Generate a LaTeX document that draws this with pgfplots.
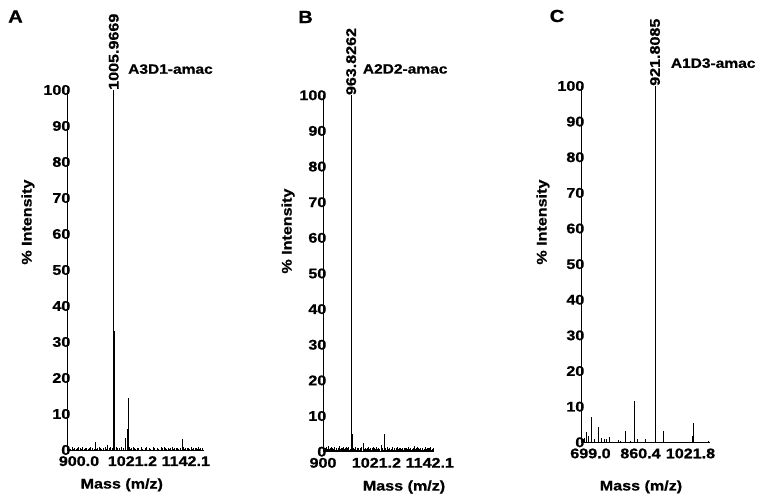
\documentclass[border=0pt]{standalone}
\usepackage{pgfplots}
\pgfplotsset{compat=1.18}
\usepackage{fontspec}
\setmainfont{Liberation Sans}[FakeStretch=1.15, BoldFeatures={FakeBold=0.8}]

\pgfplotsset{
  ms/.style={
    scale only axis,
    anchor=south west,
    axis x line=bottom, axis y line=left,
    axis line style={-, line width=0.7pt, black},
    ymin=0, ymax=100, ytick={0,10,...,100},
    major tick length=0pt,
    clip=false,
    /pgf/number format/assume math mode=true,
    tick label style={font=\fontsize{14}{14}\selectfont\bfseries},
    yticklabel style={anchor=east, inner sep=0pt, xshift=3.5pt},
    xticklabel style={anchor=north, inner sep=0pt, yshift=-6pt},
    label style={font=\fontsize{14}{14}\selectfont\bfseries},
    xlabel={Mass (m/z)}, ylabel={\% Intensity},
  },
  peak/.style={ycomb, black, line width=0.6pt, mark=none},
  noise/.style={ycomb, black, line width=0.8pt, mark=none},
}
\tikzset{
  pk/.style={rotate=90, anchor=west, inner sep=0pt, font=\fontsize{14}{14}\selectfont\bfseries},
  nm/.style={anchor=west, inner sep=0pt, font=\fontsize{13.5}{13.5}\selectfont\bfseries},
  panel/.style={inner sep=0pt, font=\fontsize{17.5}{17.5}\selectfont\bfseries},
}

\begin{document}
\begin{tikzpicture}[x=1pt,y=1pt]
\useasboundingbox (0,0) rectangle (765,502);

% A
\begin{axis}[ms, at={(67pt,52pt)}, width=137pt, height=360pt,
  xmin=900, xmax=1210.6,
  xtick={900,1021.2,1142.1}, xticklabels={900.0,1021.2,1142.1},
  xticklabel style={xshift=12pt},
  xlabel style={at={(axis description cs:0.40,-0.097)}, anchor=center},
  ylabel style={at={(axis description cs:-0.285,0.633)}, anchor=center},
]
\addplot[noise] coordinates {
 (903,0.6) (906,0.3) (908,0.4) (912,0.8) (915,0.4) (917,0.5) (921,0.3)
 (924,0.5) (926,0.7) (930,0.5) (933,0.3) (935,0.9) (939,0.4) (942,0.5)
 (944,0.6) (948,0.3) (951,0.5) (953,0.7) (957,0.5) (961,0.4) (967,0.4)
 (969,0.6) (973,0.8) (976,0.5) (978,0.4) (982,0.5) (986,0.7) (989,0.4)
 (995,0.6) (999,0.9) (1002,0.5) (1011,0.8) (1013,0.4) (1015,0.5)
 (1019,0.6) (1024,0.9) (1027,0.5) (1042,0.7) (1044,0.4) (1046,0.5)
 (1050,0.8) (1053,0.5) (1055,0.4) (1059,0.6) (1061,0.4) (1063,0.5)
 (1068,0.7) (1070,0.4) (1072,0.4) (1077,0.6) (1079,0.5) (1081,0.8)
 (1086,0.5) (1088,0.3) (1090,0.4) (1095,0.7) (1097,0.4) (1099,0.5)
 (1104,0.6) (1106,0.5) (1108,0.4) (1113,0.7) (1115,0.4) (1117,0.5)
 (1121,0.8) (1124,0.5) (1126,0.4) (1130,0.6) (1133,0.4) (1135,0.5)
 (1139,0.9) (1142,0.4) (1144,0.5) (1148,0.6) (1151,0.5) (1153,0.4)
 (1157,0.5) (1164,0.7) (1166,0.4) (1168,0.5) (1172,0.6) (1175,0.5)
 (1177,0.4) (1181,0.7) (1184,0.4) (1186,0.5) (1190,0.6) (1193,0.5)
 (1195,0.4) (1199,0.8) (1201,0.4) (1203,0.5) (1206,0.6)
};
\addplot[peak] coordinates {
 (964.2,2.2) (991.4,1.3) (1005.97,100) (1006.9,33) (1032.2,3.2)
 (1036.7,5.8) (1038.3,14.4) (1162.4,3.1)
};
\node[pk] at (axis cs:1005.97,100) {1005.9669};
\node[nm] at (axis cs:1038.3,105.8) {A3D1-amac};
\end{axis}

% B
\begin{axis}[ms, at={(323pt,50.3pt)}, width=111pt, height=356.4pt,
  xmin=900, xmax=1151.7,
  xtick={900,1021.2,1142.1}, xticklabels={900,1021.2,1142.1},
  xlabel style={at={(axis description cs:0.73,-0.099)}, anchor=center},
  ylabel style={at={(axis description cs:-0.315,0.619)}, anchor=center},
]
\addplot[noise] coordinates {
 (901,1.1) (902.5,0.5) (904,0.6) (905.5,0.9) (907,1.3) (908.5,0.5)
 (910,0.8) (911.5,0.6) (913,1.5) (914.5,0.7) (916,0.7) (917.5,1.0)
 (919,1.2) (920.5,0.5) (922,0.9) (923.5,0.7) (925,1.4) (926.5,0.6)
 (928,0.6) (929.5,1.0) (931,1.1) (932.5,0.5) (934,0.8) (935.5,0.9)
 (937,1.6) (938.5,0.6) (940,0.7) (941.5,1.0) (943,1.0) (944.5,0.6)
 (946,1.3) (947.5,0.8) (949,0.6) (950.5,1.0) (952,1.2) (953.5,0.5)
 (955,0.9) (956.5,0.7) (958,1.4) (959.5,0.6) (961,0.8) (968,1.1)
 (969.5,0.6) (971,0.7) (972.5,0.9) (974,1.3) (975.5,0.6) (977,0.9)
 (978.5,0.7) (980,1.0) (981.5,0.5) (983,0.6) (984.5,0.9) (986,1.2)
 (993,0.8) (994.5,0.6) (996,1.1) (997.5,0.7) (999,0.7) (1000.5,1.0)
 (1002,1.3) (1003.5,0.6) (1005,0.8) (1006.5,0.7) (1008,1.0) (1009.5,0.5)
 (1011,0.6) (1012.5,0.9) (1014,1.2) (1015.5,0.6) (1017,0.9) (1018.5,0.7)
 (1020,1.4) (1021.5,0.6) (1023,0.7) (1024.5,0.9) (1026,1.1) (1027.5,0.5)
 (1029,0.8) (1035,1.0) (1036.5,0.6) (1042,0.9) (1043.5,0.6) (1045,1.2)
 (1046.5,0.7) (1048,0.7) (1049.5,0.9) (1051,1.0) (1052.5,0.5) (1054,0.8)
 (1055.5,0.7) (1057,1.3) (1058.5,0.6) (1060,0.6) (1061.5,0.9) (1063,1.1)
 (1064.5,0.6) (1066,0.9) (1067.5,0.7) (1069,1.2) (1070.5,0.5) (1072,0.7)
 (1073.5,0.9) (1075,1.0) (1076.5,0.6) (1078,0.8) (1079.5,0.7) (1081,1.1)
 (1082.5,0.5) (1084,0.6) (1085.5,0.9) (1087,1.0) (1088.5,0.6) (1090,0.9)
 (1091.5,0.7) (1093,1.3) (1094.5,0.6) (1096,0.7) (1097.5,0.9) (1099,1.1)
 (1100.5,0.5) (1102,0.8) (1103.5,0.7) (1105,1.0) (1106.5,0.6) (1108,1.5)
 (1109.5,0.7) (1111,0.7) (1112.5,0.9) (1114,1.2) (1115.5,0.6) (1117,0.9)
 (1118.5,0.7) (1120,1.0) (1121.5,0.5) (1123,0.6) (1124.5,0.9) (1126,1.1)
 (1127.5,0.6) (1129,0.8) (1130.5,0.7) (1132,1.4) (1133.5,0.6) (1135,0.7)
 (1136.5,0.9) (1138,1.0) (1139.5,0.6) (1141,0.9) (1142.5,0.7) (1144,1.2)
 (1145.5,0.6) (1147,0.6) (1148.5,0.8) (1150,0.9)
};
\addplot[peak] coordinates {
 (963.83,100) (964.8,22) (965.8,5.1) (990.7,2.5) (1032.2,1.9) (1039.9,5.1)
};
\node[pk] at (axis cs:963.83,100) {963.8262};
\node[nm] at (axis cs:990,107.4) {A2D2-amac};
\end{axis}

% C
\begin{axis}[ms, at={(581pt,59.7pt)}, width=129pt, height=356.3pt,
  xmin=683, xmax=1099.2,
  xtick={699.0,860.4,1021.8}, xticklabels={699.0,860.4,1021.8},
  xticklabel style={xshift=4.5pt},
  xlabel style={at={(axis description cs:0.465,-0.125)}, anchor=center},
  ylabel style={at={(axis description cs:-0.295,0.618)}, anchor=center},
]
\addplot[peak] coordinates {
 (690.5,0.9) (693.7,1.2) (699.2,3.0) (706.6,1.7) (715.3,7.0) (726,1.0)
 (737.9,4.2) (748.6,1.3) (758.3,0.9) (766,0.9) (775.7,1.5) (803.4,0.7)
 (808.9,0.4) (826,3.3) (841,0.3) (856.3,11.5) (864.7,1.0) (889.5,0.8)
 (921.8,100) (922.8,31) (949.9,3.3) (1043.4,1.7) (1045.3,5.5) (1093.7,0.4)
};
\node[pk] at (axis cs:921.8,100) {921.8085};
\node[nm] at (axis cs:972.4,106.4) {A1D3-amac};
\end{axis}

\node[panel] at (15.5,485.5) {A};
\node[panel] at (305.5,485) {B};
\node[panel] at (557,486) {C};
\end{tikzpicture}
\end{document}
